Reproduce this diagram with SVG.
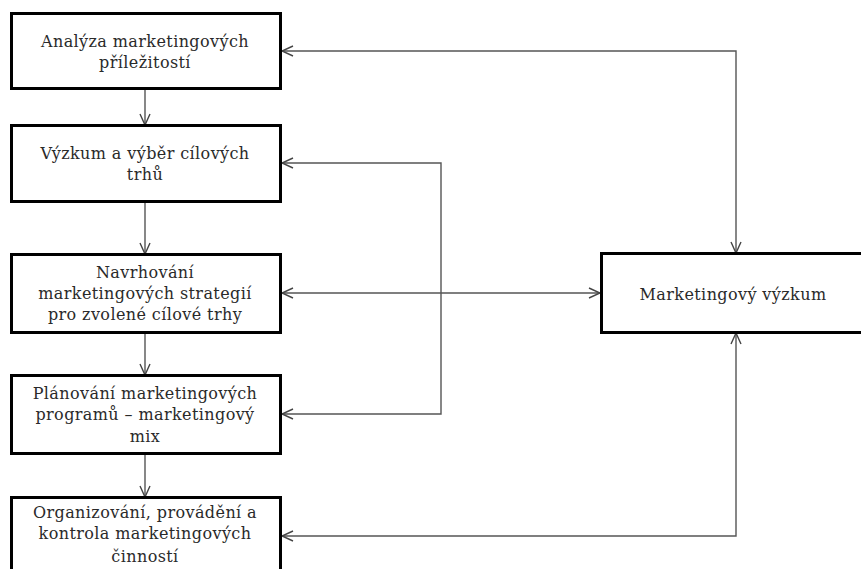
<svg xmlns="http://www.w3.org/2000/svg" width="861" height="569" viewBox="0 0 861 569">
<defs>
<style>
.box{fill:#fff;stroke:#000;stroke-width:3}
.t{font-family:"DejaVu Serif","Liberation Serif",serif;font-size:16px;letter-spacing:0.4px;fill:#2a2a2a;text-anchor:middle}
.c{fill:none;stroke:#555;stroke-width:1.4}
</style>
<marker id="ar" viewBox="0 0 12 12" refX="12" refY="6" markerWidth="12" markerHeight="12" markerUnits="userSpaceOnUse" orient="auto-start-reverse">
<path d="M1,1 L12,6 L1,11" fill="none" stroke="#444" stroke-width="1.4"/>
</marker>
</defs>
<rect width="861" height="569" fill="#fff"/>
<g id="connectors">
<path class="c" d="M145,89 V125" marker-end="url(#ar)"/>
<path class="c" d="M145,202 V254" marker-end="url(#ar)"/>
<path class="c" d="M145,333 V375" marker-end="url(#ar)"/>
<path class="c" d="M145,454 V497" marker-end="url(#ar)"/>
<path class="c" d="M282,51 H736 V253" marker-start="url(#ar)" marker-end="url(#ar)"/>
<path class="c" d="M282,163 H441 V414 H282" marker-start="url(#ar)" marker-end="url(#ar)"/>
<path class="c" d="M282,293 H600" marker-start="url(#ar)" marker-end="url(#ar)"/>
<path class="c" d="M282,536 H736 V333" marker-start="url(#ar)" marker-end="url(#ar)"/>
</g>
<g id="n1">
<rect class="box" x="11.5" y="13.5" width="269" height="75"/>
<text class="t" x="145" y="47">Analýza marketingových</text>
<text class="t" x="145" y="68">příležitostí</text>
</g>
<g id="n2">
<rect class="box" x="11.5" y="125.5" width="269" height="76"/>
<text class="t" x="145" y="159">Výzkum a výběr cílových</text>
<text class="t" x="145" y="180">trhů</text>
</g>
<g id="n3">
<rect class="box" x="11.5" y="254.5" width="269" height="78"/>
<text class="t" x="145" y="278">Navrhování</text>
<text class="t" x="145" y="299">marketingových strategií</text>
<text class="t" x="145" y="320">pro zvolené cílové trhy</text>
</g>
<g id="n4">
<rect class="box" x="11.5" y="375.5" width="269" height="78"/>
<text class="t" x="145" y="399">Plánování marketingových</text>
<text class="t" x="145" y="420">programů – marketingový</text>
<text class="t" x="145" y="442">mix</text>
</g>
<g id="n5">
<rect class="box" x="11.5" y="497.5" width="269" height="90"/>
<text class="t" x="145" y="518">Organizování, provádění a</text>
<text class="t" x="145" y="539">kontrola marketingových</text>
<text class="t" x="145" y="562">činností</text>
</g>
<g id="n6">
<rect class="box" x="601.5" y="253.5" width="270" height="79"/>
<text class="t" x="733" y="300">Marketingový výzkum</text>
</g>
</svg>
